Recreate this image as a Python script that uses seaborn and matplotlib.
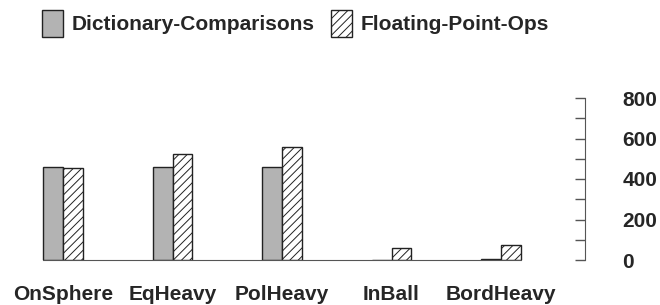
import pandas as pd
import seaborn as sns
from matplotlib import pyplot as plt

# values
workloads = ["OnSphere", "EqHeavy", "PolHeavy", "InBall", "BordHeavy"]
series = ["Dictionary-Comparisons", "Floating-Point-Ops"]
dict_cmp = [460, 459, 458, 2, 5]
float_ops = [454, 523, 560, 58, 76]
yticks = [0, 200, 400, 600, 800]

df = pd.DataFrame({
    "Workload": workloads * 2,
    "Series": [series[0]] * len(workloads) + [series[1]] * len(workloads),
    "Value": dict_cmp + float_ops,
})

sns.set_style("white")
plt.rcParams["font.family"] = ["Liberation Sans", "DejaVu Sans"]
plt.rcParams["font.weight"] = "bold"
plt.rcParams["hatch.linewidth"] = 0.7

fs = 15
edge = "#222222"
axis_col = "#555555"

fig = plt.figure(figsize=(6.6, 3.05), dpi=100)
ax = fig.add_axes([8.25 / 660, 45 / 305, 576.75 / 660, 162 / 305])

sns.barplot(data=df, x="Workload", y="Value", hue="Series", order=workloads,
            hue_order=series, palette={series[0]: "#b3b3b3", series[1]: "white"},
            width=0.365, gap=0, edgecolor=edge, linewidth=1.0, legend=False, ax=ax)

for bar in ax.containers[1]:
    bar.set_hatch("////")

ax.set_xlim(-0.5, 4.767)
ax.set_ylim(0, 800)
ax.set_xlabel("")
ax.set_ylabel("")

# y axis on the right
ax.yaxis.tick_right()
ax.set_yticks(yticks)
ax.set_yticks([100, 300, 500, 700], minor=True)
ax.tick_params(axis="y", which="both", direction="in", length=7.2, width=1,
               color=axis_col, pad=27, labelsize=fs, right=True, left=False)
for lab in ax.get_yticklabels():
    lab.set_fontweight("bold")
    lab.set_horizontalalignment("left")

ax.tick_params(axis="x", length=0, pad=18, labelsize=fs)
for lab in ax.get_xticklabels():
    lab.set_fontweight("bold")

for side in ["top", "left"]:
    ax.spines[side].set_visible(False)
ax.spines["right"].set_color(axis_col)
ax.spines["bottom"].set_color(axis_col)
left_edge = min(p.get_x() for p in ax.patches)
right_edge = max(p.get_x() + p.get_width() for p in ax.patches)
ax.spines["bottom"].set_bounds(left_edge, right_edge)

fig.legend(handles=list(ax.containers), labels=series, loc="center left",
           bbox_to_anchor=(42 / 660, 1 - 23.3 / 305), ncol=2, frameon=False,
           borderpad=0, borderaxespad=0, handlelength=1.0, handleheight=1.65,
           handletextpad=0.42, columnspacing=0.8,
           prop={"size": fs, "weight": "bold"})

fig.savefig("out.png", dpi=100)
